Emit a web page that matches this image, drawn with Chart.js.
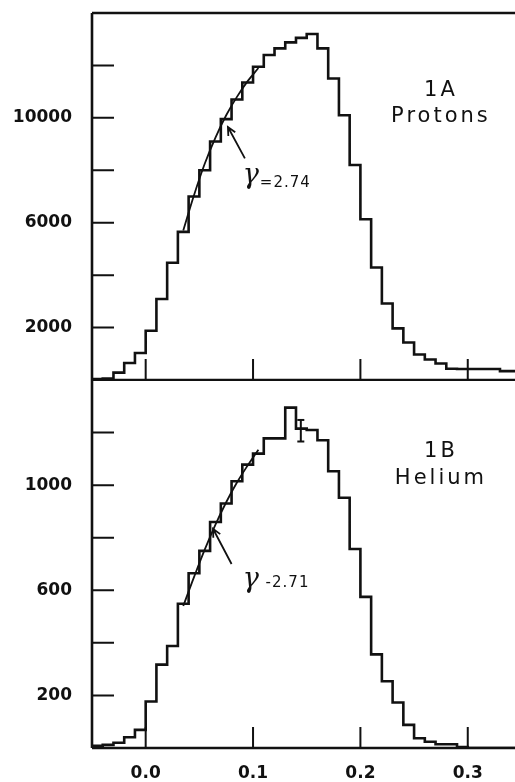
<!DOCTYPE html>
<html>
<head>
<meta charset="utf-8">
<script src="https://cdn.jsdelivr.net/npm/chart.js@4.4.1/dist/chart.umd.min.js"></script>
<style>
  html, body { margin: 0; padding: 0; background: #fff; }
  body { width: 515px; height: 782px; position: relative; overflow: hidden; }
  canvas { position: absolute; left: 0; }
  #protons { top: 0; }
  #helium { top: 380px; }
</style>
</head>
<body>
<canvas id="protons" width="515" height="381"></canvas>
<canvas id="helium" width="515" height="402"></canvas>
<script>
const ink = '#111111'

// left edges of the histogram bins, each bin is 0.01 wide
const binEdges = [-0.05, -0.04, -0.03, -0.02, -0.01, 0.00, 0.01, 0.02, 0.03, 0.04,
  0.05, 0.06, 0.07, 0.08, 0.09, 0.10, 0.11, 0.12, 0.13, 0.14,
  0.15, 0.16, 0.17, 0.18, 0.19, 0.20, 0.21, 0.22, 0.23, 0.24,
  0.25, 0.26, 0.27, 0.28, 0.29, 0.30, 0.31, 0.32, 0.33, 0.34]
const binWidth = 0.01

// 1A protons
const protonCounts = [40, 60, 280, 650, 1030, 1880, 3090, 4470, 5650, 7000,
  8000, 9100, 9950, 10700, 11350, 11950, 12400, 12650, 12880, 13050,
  13200, 12650, 11500, 10100, 8200, 6130, 4290, 2920, 1970, 1430,
  970, 780, 630, 430, 420, 420, 420, 420, 340, 340]
const protonFitX = [0.035, 0.045, 0.055, 0.065, 0.075, 0.085, 0.095, 0.105]
const protonFitY = [5700, 7050, 8250, 9250, 10100, 10800, 11400, 11900]

// 1B helium
const heliumCounts = [8, 12, 20, 41, 69, 177, 317, 388, 549, 665,
  750, 860, 930, 1015, 1078, 1120, 1178, 1178, 1295, 1215,
  1210, 1171, 1053, 952, 757, 575, 356, 254, 173, 88,
  37, 24, 14, 14, 4, 0, 0, 0, 0, 0]
const heliumFitX = [0.035, 0.045, 0.055, 0.065, 0.075, 0.085, 0.095, 0.105]
const heliumFitY = [540, 650, 755, 850, 935, 1010, 1075, 1135]
const heliumErrX = 0.1445
const heliumErr = [1166, 1248]

// axes
const xMin = -0.05
const xMax = 0.344
const xTickValues = [0.0, 0.1, 0.2, 0.3]
const protonYMax = 14000
const protonYStep = 2000
const protonYLabels = [2000, 6000, 10000]
const heliumYMax = 1400
const heliumYStep = 200
const heliumYLabels = [200, 600, 1000]

const tickFont = { family: '"DejaVu Sans"', size: 17, weight: 'bold' }

function histPoints(counts) {
  const pts = binEdges.map((e, i) => ({ x: e, y: counts[i] }))
  pts.push({ x: binEdges[binEdges.length - 1] + binWidth, y: counts[counts.length - 1] })
  return pts
}

function pairs(xs, ys) {
  return xs.map((v, i) => ({ x: v, y: ys[i] }))
}

//axis frame, inward ticks and the notes on each panel
const frame = {
  id: 'frame',
  afterDraw(chart) {
    const o = chart.options.plugins.frame
    const { ctx, chartArea: a } = chart
    const x = chart.scales.x, y = chart.scales.y
    const y0 = y.getPixelForValue(0)
    const yTop = y.getPixelForValue(y.max)
    ctx.save()
    ctx.strokeStyle = ink
    ctx.fillStyle = ink
    ctx.lineCap = 'butt'

    ctx.lineWidth = 2.6
    ctx.beginPath()
    ctx.moveTo(a.left, yTop)
    ctx.lineTo(a.left, y0)
    ctx.moveTo(a.left, y0)
    ctx.lineTo(a.right, y0)
    if (o.top) {
      ctx.moveTo(a.left, yTop)
      ctx.lineTo(a.right, yTop)
    }
    ctx.stroke()

    ctx.lineWidth = 2
    ctx.beginPath()
    y.ticks.forEach(t => {
      if (t.value <= 0 || t.value >= y.max) return
      const py = y.getPixelForValue(t.value)
      ctx.moveTo(a.left, py)
      ctx.lineTo(a.left + 22, py)
    })
    xTickValues.forEach(v => {
      const px = x.getPixelForValue(v)
      ctx.moveTo(px, y0)
      ctx.lineTo(px, y0 - 21)
    })
    ctx.stroke()

    // arrow to the fitted line
    const [t0, t1] = o.arrow
    const ax0 = x.getPixelForValue(t0[0]), ay0 = y.getPixelForValue(t0[1])
    const ax1 = x.getPixelForValue(t1[0]), ay1 = y.getPixelForValue(t1[1])
    const ang = Math.atan2(ay1 - ay0, ax1 - ax0)
    ctx.lineWidth = 1.8
    ctx.beginPath()
    ctx.moveTo(ax0, ay0)
    ctx.lineTo(ax1, ay1)
    ctx.moveTo(ax1 - 9 * Math.cos(ang - 0.45), ay1 - 9 * Math.sin(ang - 0.45))
    ctx.lineTo(ax1, ay1)
    ctx.lineTo(ax1 - 9 * Math.cos(ang + 0.45), ay1 - 9 * Math.sin(ang + 0.45))
    ctx.stroke()

    // gamma label
    const gx = x.getPixelForValue(o.gamma[0]), gy = y.getPixelForValue(o.gamma[1])
    ctx.textBaseline = 'alphabetic'
    ctx.textAlign = 'left'
    ctx.font = 'italic 27px "DejaVu Serif"'
    ctx.fillText('γ', gx, gy)
    ctx.font = '15px "DejaVu Sans"'
    ctx.letterSpacing = '1px'
    ctx.fillText(o.gammaText, gx + 17, gy + o.gammaDy)

    // panel name
    ctx.textAlign = 'center'
    ctx.textBaseline = 'middle'
    ctx.font = '21px "DejaVu Sans"'
    ctx.letterSpacing = '3px'
    o.names.forEach(n => {
      ctx.fillText(n.text, x.getPixelForValue(n.x), y.getPixelForValue(n.y))
    })
    ctx.restore()
  }
}

function panel(canvasId, p) {
  const datasets = [
    {
      data: histPoints(p.counts), stepped: true, borderColor: ink,
      borderWidth: 2.6, pointRadius: 0, fill: false
    },
    {
      data: pairs(p.fitX, p.fitY), borderColor: ink, borderWidth: 1.8,
      pointRadius: 0, tension: 0.4, fill: false
    }
  ]
  if (p.err) {
    datasets.push({
      data: [{ x: p.err.x, y: p.err.y[0] }, { x: p.err.x, y: p.err.y[1] }],
      borderColor: ink, borderWidth: 2, pointStyle: 'line', pointRadius: 3.5,
      pointBorderColor: ink, pointBorderWidth: 2
    })
  }
  return new Chart(document.getElementById(canvasId), {
    type: 'line',
    data: { datasets: datasets },
    options: {
      responsive: false,
      animation: false,
      events: [],
      layout: {
        autoPadding: false,
        padding: { top: p.padTop, bottom: p.padBottom, left: 0, right: 0 }
      },
      plugins: {
        legend: { display: false },
        tooltip: { enabled: false },
        frame: p.frame
      },
      scales: {
        x: {
          type: 'linear', min: xMin, max: xMax, display: p.showX,
          grid: { display: false, drawTicks: false },
          border: { display: false },
          ticks: {
            stepSize: 0.1, includeBounds: false, padding: 15, color: ink,
            font: tickFont, maxRotation: 0, callback: v => v.toFixed(1)
          },
          afterFit: s => {
            s.height = p.showX ? 34 : 0
            s.paddingLeft = 0
            s.paddingRight = 0
            s.paddingTop = 0
            s.paddingBottom = 0
          }
        },
        y: {
          min: 0, max: p.yMax,
          grid: { display: false, drawTicks: false },
          border: { display: false },
          ticks: {
            stepSize: p.yStep, padding: 20, color: ink, font: tickFont,
            autoSkip: false,
            callback: v => p.yLabels.includes(v) ? String(v) : ''
          },
          afterFit: s => {
            s.width = 92
            s.paddingTop = 0
            s.paddingBottom = 0
          }
        }
      }
    },
    plugins: [frame]
  })
}

panel('protons', {
  counts: protonCounts, fitX: protonFitX, fitY: protonFitY,
  yMax: protonYMax, yStep: protonYStep, yLabels: protonYLabels,
  padTop: 13, padBottom: 1, showX: false,
  frame: {
    top: true,
    arrow: [[0.0924, 8455], [0.0766, 9650]],
    gamma: [0.0905, 7500], gammaText: '=2.74', gammaDy: 4,
    names: [{ text: '1A', x: 0.275, y: 11050 }, { text: 'Protons', x: 0.275, y: 10060 }]
  }
})

panel('helium', {
  counts: heliumCounts, fitX: heliumFitX, fitY: heliumFitY,
  err: { x: heliumErrX, y: heliumErr },
  yMax: heliumYMax, yStep: heliumYStep, yLabels: heliumYLabels,
  padTop: 0, padBottom: 0, showX: true,
  frame: {
    top: false,
    arrow: [[0.080, 700], [0.0627, 834]],
    gamma: [0.0905, 612], gammaText: ' -2.71', gammaDy: 0,
    names: [{ text: '1B', x: 0.275, y: 1128 }, { text: 'Helium', x: 0.275, y: 1025 }]
  }
})
</script>
</body>
</html>
